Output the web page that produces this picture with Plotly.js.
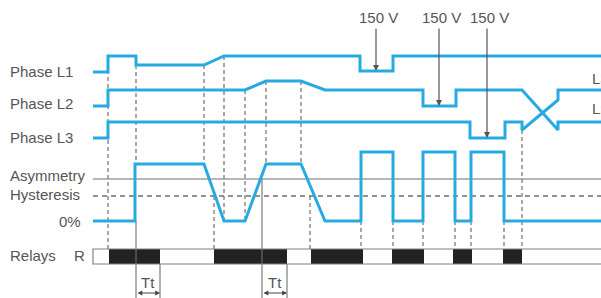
<!DOCTYPE html>
<html>
<head>
<meta charset="utf-8">
<script src="https://cdn.plot.ly/plotly-3.0.1.min.js"></script>
<style>html,body{margin:0;padding:0;background:#fff;}#chart{width:601px;height:298px;}</style>
</head>
<body>
<div id="chart"></div>
<script>
// ---- timing data (time units along x, signal level along y) ----
var L1_t = [93,108,108,136,136,204,224,360,360,393,393,601];
var L1_v = [72,72,56,56,65,65,56,56,71,71,56,56];
var L2_t = [93,108,108,245,266,301,325,423,423,456,456,522,558,558,601];
var L2_v = [106,106,90,90,81,81,90,90,106,106,90,90,130,122,122];
var L3_t = [93,108,108,470,470,505,505,522,522,558,558,601];
var L3_v = [138,138,122,122,138,138,122,122,130,100,90,90];
var asym_t = [93,135,135,204,224,245,266,301,325,361,361,393,393,423,423,455,455,471,471,504,504,601];
var asym_v = [221,221,164,164,221,221,164,164,221,221,152,152,221,221,152,152,221,221,152,152,221,221];
var asymLevel = 179;
var hystLevel = 196;
var relayStart = [109,214,311,392,453,503];
var relayEnd   = [160,287,363,424,472,522];
var relayTop = 249, relayBottom = 264;
var guideX   = [108,136,204,224,245,266,301,214,310,361,393,423,455,471,504,522];
var guideTop = [56,65,65,56,90,81,81,196,196,221,221,221,221,221,221,130];
var guideBot = [249,164,164,221,221,164,164,249,249,249,249,249,249,249,249,249];
var ttLeft = [136,262], ttRight = [160,287], ttLeftTop = [221,179];
var dipX = [376,439,487], dipLevel = [71,106,138];
var dipLabel = ["150 V","150 V","150 V"];
var rowLabels = ["Phase L1","Phase L2","Phase L3","Asymmetry","Hysteresis","Relays"];
var rowLabelY = [71,103,137,175,194,255];

var BLUE = "#29A9E1", GRAY = "#6f6f6f", TXT = "#555555";
var FONT = "Liberation Sans, Arial, sans-serif";
var traces = [];
function seg(xs0, ys0, xs1, ys1){var x=[],y=[];for(var i=0;i<xs0.length;i++){x.push(xs0[i],xs1[i],null);y.push(ys0[i],ys1[i],null);}return {x:x,y:y};}

// threshold lines
traces.push({x:[93,601],y:[asymLevel,asymLevel],mode:"lines",line:{color:GRAY,width:1.2},hoverinfo:"skip"});
traces.push({x:[93,601],y:[hystLevel,hystLevel],mode:"lines",line:{color:GRAY,width:1.3,dash:"5px,4px"},hoverinfo:"skip"});
// vertical dashed guides
var g = seg(guideX, guideTop, guideX, guideBot);
traces.push({x:g.x,y:g.y,mode:"lines",line:{color:"#7a7a7a",width:1.3,dash:"4px,3px"},hoverinfo:"skip"});
// Tt solid markers
var tl = seg(ttLeft, ttLeftTop, ttLeft, [298,298]);
var tr = seg(ttRight, [relayBottom,relayBottom], ttRight, [298,298]);
traces.push({x:tl.x.concat(tr.x),y:tl.y.concat(tr.y),mode:"lines",line:{color:GRAY,width:1.1},hoverinfo:"skip"});
// relay blocks
var widths = relayEnd.map(function(e,i){return e-relayStart[i];});
traces.push({type:"bar",orientation:"h",base:relayStart,x:widths,y:relayStart.map(function(){return (relayTop+relayBottom)/2;}),width:relayBottom-relayTop,marker:{color:"#222222",line:{width:0}},hoverinfo:"skip"});
// relay box outline
traces.push({x:[601,93,93,601],y:[relayTop,relayTop,relayBottom,relayBottom],mode:"lines",line:{color:"#808080",width:1.2},hoverinfo:"skip"});
// signals
[[L1_t,L1_v],[L2_t,L2_v],[L3_t,L3_v],[asym_t,asym_v]].forEach(function(s){
  traces.push({x:s[0],y:s[1],mode:"lines",line:{color:BLUE,width:3,shape:"linear"},hoverinfo:"skip"});
});

var ann = [];
rowLabels.forEach(function(t,i){ann.push({x:8,y:rowLabelY[i],text:t,xanchor:"left",yanchor:"middle",showarrow:false,font:{family:FONT,size:15,color:TXT}});});
ann.push({x:83,y:221,text:"0%",xanchor:"right",yanchor:"middle",showarrow:false,font:{family:FONT,size:15,color:TXT}});
ann.push({x:72,y:255,text:"R",xanchor:"left",yanchor:"middle",showarrow:false,font:{family:FONT,size:15,color:TXT}});
ann.push({x:590,y:78,text:"L3",xanchor:"left",yanchor:"middle",showarrow:false,font:{family:FONT,size:15,color:TXT}});
ann.push({x:590,y:108,text:"L2",xanchor:"left",yanchor:"middle",showarrow:false,font:{family:FONT,size:15,color:TXT}});
dipX.forEach(function(x,i){
  ann.push({x:x+2,y:17,text:dipLabel[i],xanchor:"center",yanchor:"middle",showarrow:false,font:{family:FONT,size:15,color:TXT}});
  ann.push({x:x,y:dipLevel[i],ax:x,ay:27,axref:"x",ayref:"y",xref:"x",yref:"y",text:"",showarrow:true,arrowhead:2,arrowsize:1,arrowwidth:1.2,arrowcolor:"#555"});
});
ttLeft.forEach(function(l,i){
  var c=(l+ttRight[i])/2;
  ann.push({x:c,y:282,text:"Tt",xanchor:"center",yanchor:"middle",showarrow:false,font:{family:FONT,size:15,color:TXT}});
  ann.push({x:ttRight[i],y:293,ax:l,ay:293,axref:"x",ayref:"y",text:"",showarrow:true,arrowhead:2,startarrowhead:2,arrowside:"end+start",arrowsize:0.8,arrowwidth:1.2,arrowcolor:"#444",standoff:0,startstandoff:0});
});

var layout = {
  width:601,height:298,margin:{l:0,r:0,t:0,b:0},
  paper_bgcolor:"#ffffff",plot_bgcolor:"#ffffff",showlegend:false,
  barmode:"overlay",
  xaxis:{range:[0,601],visible:false,fixedrange:true},
  yaxis:{range:[298,0],visible:false,fixedrange:true},
  annotations:ann
};
Plotly.newPlot("chart",traces,layout,{displayModeBar:false,staticPlot:true});
</script>
</body>
</html>
